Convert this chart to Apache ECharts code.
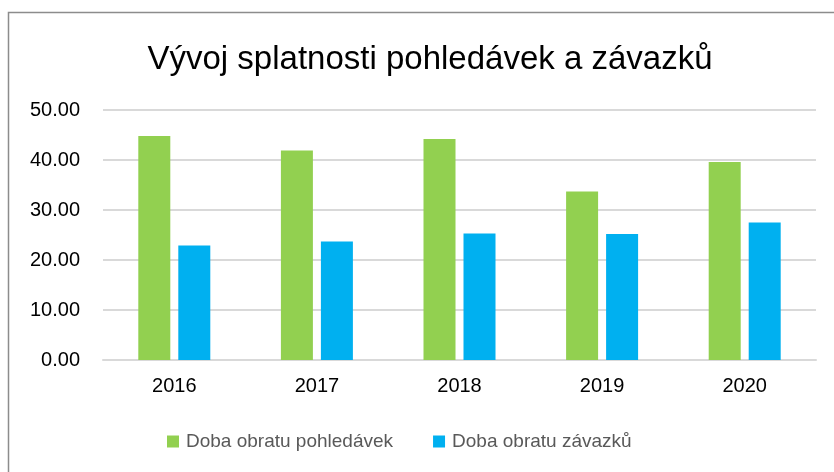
<!DOCTYPE html>
<html><head><meta charset="utf-8">
<script src="https://cdn.jsdelivr.net/npm/echarts@6/dist/echarts.min.js"></script>
<style>html,body{margin:0;padding:0;background:#fff}#c{width:834px;height:472px}</style>
</head><body><div id="c"></div>
<script>
var categories = ['2016','2017','2018','2019','2020'];
var pohledavky = [44.8, 41.9, 44.2, 33.7, 39.6];
var zavazky = [22.9, 23.7, 25.3, 25.2, 27.5];
var yTicks = [0, 10, 20, 30, 40, 50];
var seriesNames = ['Doba obratu pohledávek', 'Doba obratu závazků'];

var chart = echarts.init(document.getElementById('c'), null, {renderer:'canvas'});
var font = 'Liberation Sans, Arial, sans-serif';
chart.setOption({
  backgroundColor:'#fff',
  animation:false,
  graphic:[{type:'rect', shape:{x:8.5,y:12.5,width:900,height:600}, style:{fill:'none',stroke:'#8c8c8c',lineWidth:1.5}, z:-1}],
  title:{text:'Vývoj splatnosti pohledávek a závazků', left:'center', top:38, left:425, textAlign:'center',
    textStyle:{fontFamily:font, fontSize:33, fontWeight:'normal', color:'#000'}},
  legend:{bottom:16, left:162, itemWidth:12, itemHeight:12, itemGap:40, icon:'rect',
    textStyle:{fontFamily:font, fontSize:19, color:'#595959', padding:[0,0,0,2]}, data:seriesNames},
  grid:{left:103, right:18, top:110, bottom:112},
  xAxis:{type:'category', data:categories,
    axisLine:{show:true, lineStyle:{color:'#d9d9d9', width:2}}, axisTick:{show:false},
    axisLabel:{fontFamily:font, fontSize:20, color:'#000', margin:16}},
  yAxis:{type:'value', min:yTicks[0], max:yTicks[yTicks.length-1], interval:10,
    axisLine:{show:false}, axisTick:{show:false},
    splitLine:{lineStyle:{color:'#d9d9d9', width:2}},
    axisLabel:{fontFamily:font, fontSize:20, color:'#000', margin:23, formatter:function(v){return v.toFixed(2);}}},
  series:[
    {name:seriesNames[0], type:'bar', data:pohledavky, barWidth:32, barGap:'25%', itemStyle:{color:'#92d050'}},
    {name:seriesNames[1], type:'bar', data:zavazky, barWidth:32, itemStyle:{color:'#00b0f0'}}
  ]
});
</script></body></html>
